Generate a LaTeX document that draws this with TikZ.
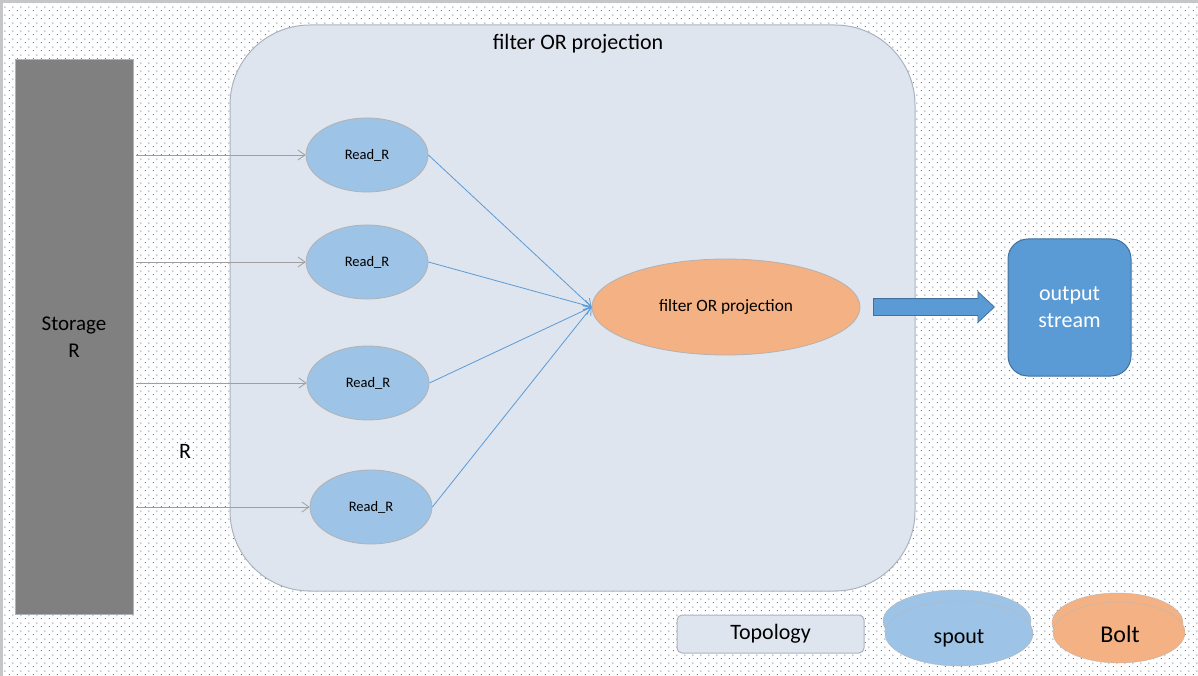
\documentclass[tikz,border=0pt]{standalone}
\usepackage{fontspec}
\setmainfont{Carlito}
\usepackage{xcolor}
\usepackage{tikz}
\usetikzlibrary{shapes.geometric, shapes.arrows, arrows.meta, positioning, calc, patterns.meta}
\definecolor{SpoutBlue}{RGB}{157,195,230}
\definecolor{BoltOrange}{RGB}{244,177,131}
\definecolor{StreamBlue}{RGB}{91,155,213}
\definecolor{StreamEdge}{RGB}{65,113,156}
\definecolor{TopoFill}{RGB}{223,229,238}
\definecolor{TopoEdge}{RGB}{172,179,191}
\definecolor{DotGrey}{RGB}{95,130,170}
\tikzdeclarepattern{
    name=bgdots, type=uncolored,
    bounding box={(0pt,0pt) and (8pt,8pt)},
    tile size={(8pt,8pt)},
    code={\fill (1pt,1pt) rectangle (2pt,2pt); \fill (5pt,5pt) rectangle (6pt,6pt);}
}
\tikzset{
    topobox/.style={rectangle, rounded corners=#1, draw=TopoEdge, fill=TopoFill, line width=1pt},
    storebox/.style={rectangle, minimum width=118pt, minimum height=554pt,
        draw=TopoEdge, fill=gray, line width=1pt, align=center, font=\fontsize{21}{27}\selectfont},
    spoutnode/.style={ellipse, minimum width=122pt, minimum height=74pt, inner sep=0pt,
        draw=gray!60, fill=SpoutBlue, line width=0.8pt, font=\fontsize{14.5}{17}\selectfont},
    boltnode/.style={ellipse, minimum width=268pt, minimum height=96pt, inner sep=0pt,
        draw=gray!60, fill=BoltOrange, line width=0.8pt, font=\fontsize{17.3}{20}\selectfont},
    streambox/.style={rectangle, rounded corners=20pt, minimum width=123pt, minimum height=137pt,
        draw=StreamEdge, fill=StreamBlue, line width=1pt, text=white, align=center,
        font=\fontsize{22}{27}\selectfont},
    feedarrow/.style={-{Straight Barb[length=7pt, width=10pt]}, gray!75, line width=0.8pt},
    joinarrow/.style={-{Straight Barb[length=7pt, width=10pt]}, StreamBlue, line width=0.8pt},
    legendtext/.style={font=\fontsize{22}{26}\selectfont},
}
\begin{document}
\begin{tikzpicture}[x=1pt, y=-1pt]
    \useasboundingbox (0,0) rectangle (1198,676);
    % background with dots and grey frame
    \fill[white] (0,0) rectangle (1198,676);
    \fill[pattern=bgdots, pattern color=DotGrey] (3,3) rectangle (1198,676);
    \fill[gray!45] (0,0) rectangle (1198,3);
    \fill[gray!45] (0,0) rectangle (3,676);

    % topology container
    \node[topobox=80pt, minimum width=685pt, minimum height=566pt] (topo) at (572.5,308) {};
    \node[legendtext] (title) at (578,44) {filter OR projection};

    % storage
    \node[storebox] (storage) at (74,337) {Storage\\R};
    \node[legendtext] (rlabel) at (185,451) {R};

    % spouts
    \node[spoutnode] (r1) at (367,155) {Read\_R};
    \node[spoutnode] (r2) at (367,262) {Read\_R};
    \node[spoutnode] (r3) at (368,383) {Read\_R};
    \node[spoutnode] (r4) at (371,507) {Read\_R};

    % bolt
    \node[boltnode] (filt) at (726,307) {filter OR projection};

    \foreach \r in {r1, r2, r3, r4} {
        \draw[feedarrow] (storage.east |- \r) ++(2,0) -- (\r.west);
        \draw[joinarrow] (\r.east) -- (filt.west);
    }

    % output
    \node[streambox] (stream) at (1069.5,307.5) {output\\stream};
    \node[single arrow, anchor=tail, draw=StreamEdge, fill=StreamBlue, line width=0.8pt,
        minimum height=121pt, inner sep=0pt, text height=16pt, text depth=0pt,
        single arrow head extend=7pt, single arrow tip angle=86] (push) at (873,307) {};

    % legend
    \node[topobox=5pt, minimum width=187pt, minimum height=38pt, legendtext] (legtopo) at (770.5,634) {Topology};
    \node[ellipse, minimum width=148pt, minimum height=62pt, draw=gray!55, fill=SpoutBlue] (legspoutback) at (957,621) {};
    \node[ellipse, minimum width=148pt, minimum height=65pt, draw=gray!55, fill=SpoutBlue] (legspout) at (959,633.5) {};
    \node[legendtext] at (959,638) {spout};
    \node[ellipse, minimum width=131pt, minimum height=60pt, draw=gray!55, fill=BoltOrange] (legboltback) at (1117.5,623) {};
    \node[ellipse, minimum width=132pt, minimum height=61pt, draw=gray!55, fill=BoltOrange] (legbolt) at (1119,632.5) {};
    \node[font=\fontsize{24}{28}\selectfont] at (1120,634) {Bolt};
\end{tikzpicture}
\end{document}
